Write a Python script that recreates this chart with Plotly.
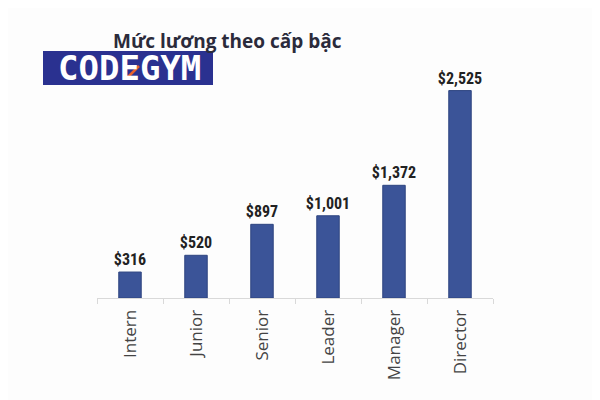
import plotly.graph_objects as go

categories = ["Intern", "Junior", "Senior", "Leader", "Manager", "Director"]
salaries = [316, 520, 897, 1001, 1372, 2525]
value_labels = ["$316", "$520", "$897", "$1,001", "$1,372", "$2,525"]
title_text = "Mức lương theo cấp bậc"
logo_text = "CODEGYM"

fig = go.Figure(go.Bar(
    x=categories, y=salaries, text=value_labels,
    textposition="outside", cliponaxis=False, constraintext="none",
    texttemplate="<b>%{text}</b>",
    textfont=dict(family="Roboto Condensed, Liberation Sans Narrow, Roboto, sans-serif", size=16, color="#222222"),
    marker=dict(color="#3b5498", line=dict(color="#2e4580", width=1)),
    width=0.34,
))

fig.update_layout(
    width=600, height=400,
    margin=dict(l=89, r=115, t=60, b=110),
    paper_bgcolor="#fdfdfd", plot_bgcolor="#fdfdfd",
    showlegend=False,
    xaxis=dict(
        showline=True, linecolor="#d9d9d9", linewidth=1,
        ticks="outside", tickson="boundaries", ticklen=5, tickcolor="#d9d9d9",
        tickangle=-90, ticklabelstandoff=4,
        tickfont=dict(family="Open Sans, sans-serif", size=17, color="#444444"),
        showgrid=False, automargin=False,
    ),
    yaxis=dict(range=[0, 2800], visible=False, showgrid=False),
)

fig.add_annotation(
    text="<b>" + title_text + "</b>", xref="paper", yref="paper",
    x=(227 - 97) / 396, y=1 + (68 - 41) / 230, xanchor="center", yanchor="middle",
    showarrow=False, font=dict(family="Open Sans, sans-serif", size=19, color="#2b2b3b"),
)

# logo box
fig.add_shape(type="rect", xref="paper", yref="paper",
              x0=(43 - 97) / 396, x1=(213 - 97) / 396,
              y0=1 + (68 - 85) / 230, y1=1 + (68 - 51) / 230,
              fillcolor="#2a3190", line=dict(width=0), layer="above")
fig.add_annotation(
    text="<b>" + logo_text + "</b>", xref="paper", yref="paper",
    x=(129 - 97) / 396, y=1 + (68 - 68) / 230, xanchor="center", yanchor="middle",
    showarrow=False, font=dict(family="DejaVu Sans Mono, monospace", size=34, color="#ffffff"),
)
fig.add_shape(type="line", xref="paper", yref="paper",
              x0=(127 - 97) / 396, x1=(139 - 97) / 396,
              y0=1 + (68 - 78) / 230, y1=1 + (68 - 66) / 230,
              line=dict(color="#e8602c", width=2.5), layer="above")

fig.write_html("out.html")
